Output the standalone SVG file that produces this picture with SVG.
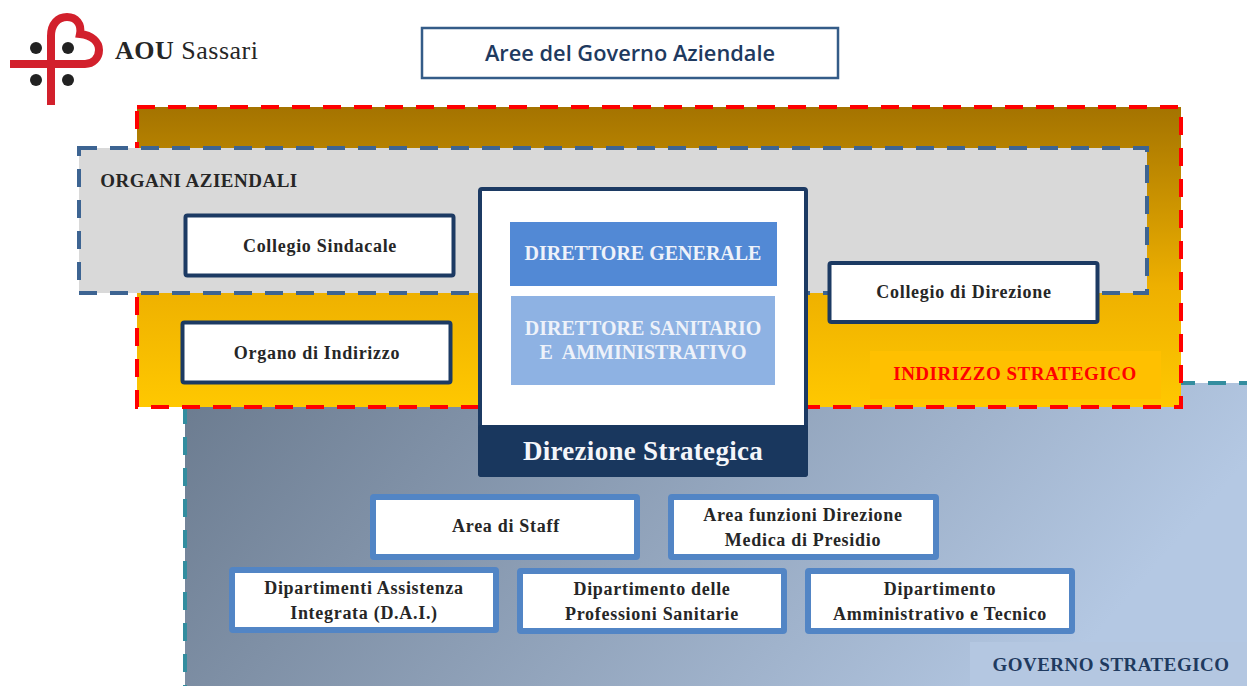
<svg xmlns="http://www.w3.org/2000/svg" width="1247" height="686" viewBox="0 0 1247 686">
<style>
text{font-family:"Liberation Serif","Times New Roman",serif;font-weight:bold;text-anchor:middle;fill:#262626;font-size:18px;letter-spacing:.7px}
.navy{fill:#fff;stroke:#1c3a63;stroke-width:4}
.blue{fill:#fff;stroke:#5285c5;stroke-width:6}
.dash{stroke-width:4;stroke-dasharray:18 13}
.caps{font-size:19px;letter-spacing:.5px}
.inner{font-size:20px;letter-spacing:0;fill:#eef2fa}
</style>
<defs>
<linearGradient id="gold" x1="0" y1="0" x2="0" y2="1"><stop offset="0" stop-color="#a47300"/><stop offset=".6" stop-color="#eeb000"/><stop offset="1" stop-color="#ffc800"/></linearGradient>
<linearGradient id="gov" x1="0" y1="0" x2="1" y2="0.25"><stop offset="0" stop-color="#6b7b8f"/><stop offset="1" stop-color="#b4c8e3"/></linearGradient>
</defs>
<g id="governo-strategico">
<rect x="185" y="383" width="1064" height="305" fill="url(#gov)" stroke="#338d9f" class="dash"/>
<rect x="970" y="642" width="277" height="44" fill="#b4c7e1"/>
<text x="1111" y="671" class="caps" style="fill:#1f3a5f">GOVERNO STRATEGICO</text>
</g>
<g id="indirizzo-strategico">
<rect x="137" y="107" width="1044" height="300" fill="url(#gold)" stroke="#ff0000" class="dash"/>
<rect x="870" y="351" width="291" height="48" fill="#ffc000"/>
<text x="1015" y="380" class="caps" style="fill:#ff0000">INDIRIZZO STRATEGICO</text>
</g>
<g id="organi-aziendali">
<rect x="79" y="148" width="1068" height="145" fill="#d9d9d9" stroke="#3d6492" class="dash"/>
<text x="199" y="187" class="caps">ORGANI AZIENDALI</text>
</g>
<g id="logo">
<path d="M51 105V36C51 24 58 17 67 17C76 17 82 24 80 34C92 35 99 42 99 50C99 58 93 64 85 64H10" fill="none" stroke="#d2202c" stroke-width="8"/>
<circle cx="36" cy="48" r="6" fill="#222"/><circle cx="68" cy="48" r="6" fill="#222"/><circle cx="36" cy="80" r="6" fill="#222"/><circle cx="68" cy="80" r="6" fill="#222"/>
<text x="115" y="59" style="text-anchor:start;font-size:26px;letter-spacing:.5px">AOU <tspan font-weight="normal">Sassari</tspan></text>
</g>
<g id="titolo">
<rect x="422" y="28" width="416" height="50" fill="#fff" stroke="#345c88" stroke-width="2.5"/>
<text x="630" y="61" style="font-family:'Open Sans','Liberation Sans',sans-serif;fill:#1f3a5f;font-weight:600;font-size:21.800px;letter-spacing:0">Aree del Governo Aziendale</text>
</g>
<g id="collegio-sindacale"><rect class="navy" x="185.500" y="215.500" width="268" height="60" rx="2"/><text x="320" y="252">Collegio Sindacale</text></g>
<g id="organo-indirizzo"><rect class="navy" x="182.500" y="322.500" width="268" height="60" rx="2"/><text x="317" y="359">Organo di Indirizzo</text></g>
<g id="collegio-direzione"><rect class="navy" x="829.500" y="263" width="268" height="59" rx="2"/><text x="964" y="298">Collegio di Direzione</text></g>
<g id="direzione-strategica">
<rect x="480" y="189" width="326" height="286" rx="2" fill="#fff" stroke="#1c3a63" stroke-width="4"/>
<rect x="478" y="425" width="330" height="52" rx="3" fill="#19375e"/>
<text x="643" y="460" style="fill:#f4f6fa;font-size:27px;letter-spacing:.3px">Direzione Strategica</text>
<rect x="510" y="222" width="267" height="64" fill="#5289d5"/>
<text x="643" y="260" class="inner">DIRETTORE GENERALE</text>
<rect x="511" y="296" width="264" height="89" fill="#8eb2e3"/>
<text x="643" y="335" class="inner">DIRETTORE SANITARIO</text>
<text x="643" y="359" class="inner" xml:space="preserve">E  AMMINISTRATIVO</text>
</g>
<g id="area-staff"><rect class="blue" x="373" y="497" width="264" height="60" rx="1"/><text x="506" y="532">Area di Staff</text></g>
<g id="area-funzioni"><rect class="blue" x="671" y="497" width="265" height="60" rx="1"/><text x="803" y="521">Area funzioni Direzione</text><text x="803" y="546">Medica di Presidio</text></g>
<g id="dai"><rect class="blue" x="232" y="570" width="264" height="60" rx="1"/><text x="364" y="594">Dipartimenti Assistenza</text><text x="364" y="619">Integrata (D.A.I.)</text></g>
<g id="professioni"><rect class="blue" x="520" y="571" width="264" height="60" rx="1"/><text x="652" y="595">Dipartimento delle</text><text x="652" y="620">Professioni Sanitarie</text></g>
<g id="amministrativo"><rect class="blue" x="808" y="571" width="264" height="60" rx="1"/><text x="940" y="595">Dipartimento</text><text x="940" y="620">Amministrativo e Tecnico</text></g>
</svg>
